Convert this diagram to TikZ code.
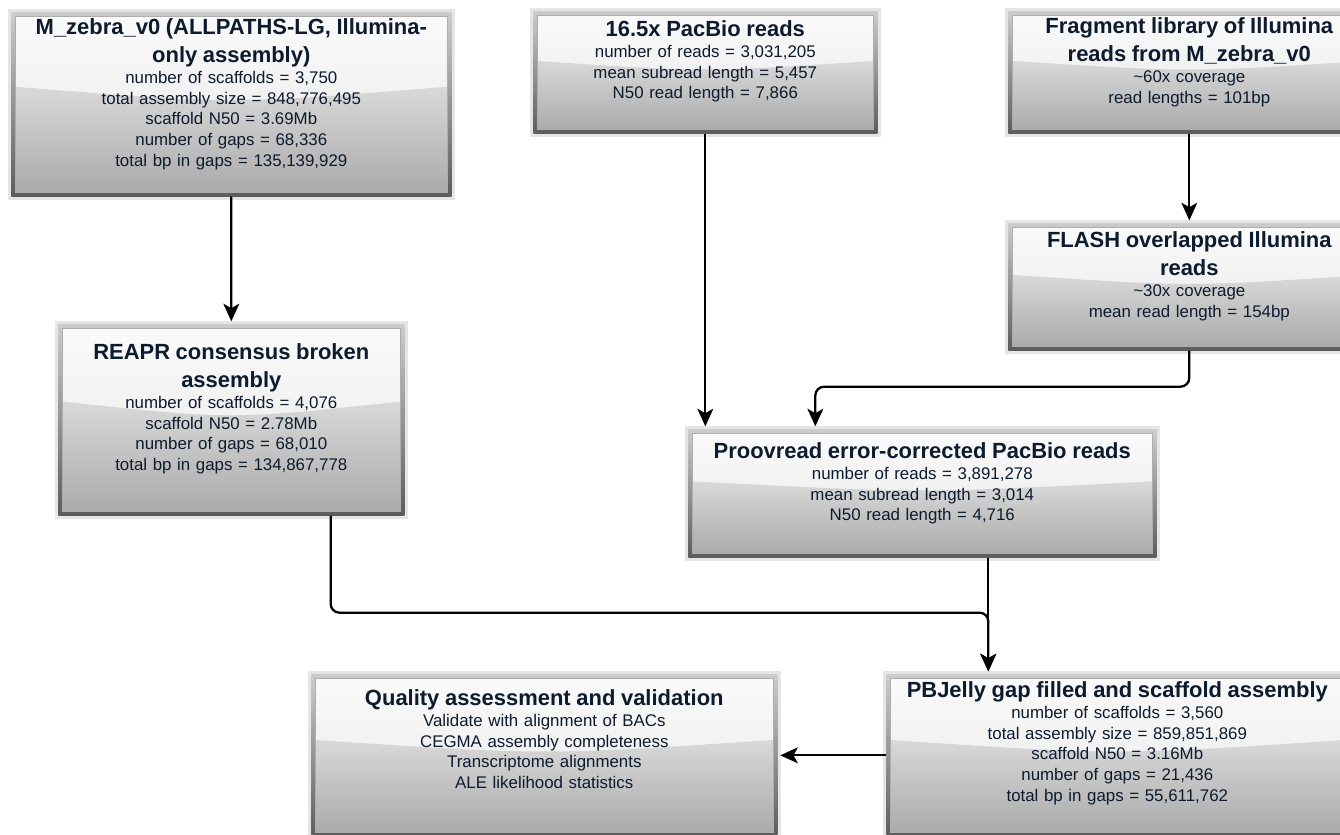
\documentclass[tikz,border=0pt]{standalone}
\usepackage{fontspec}
\setmainfont{Liberation Sans}
\usetikzlibrary{arrows.meta,positioning,calc}

\definecolor{ink}{RGB}{13,27,47}
\newcommand{\boxtitle}[1]{{\fontsize{12.5}{15.9}\selectfont\bfseries #1\par}}

\begin{document}
\begin{tikzpicture}[x=0.02cm,y=-0.02cm,>={Stealth[length=10pt,width=9pt,inset=2.5pt]},
  stage/.style={inner sep=0pt,anchor=north west,
    preaction={fill=black!14,transform canvas={shift={(2pt,-2pt)}}},
    preaction={draw=black!10,line width=4pt},
    top color=black!20,bottom color=black!64,
    path picture={
      \coordinate (pp-nw) at ([shift={(2.3pt,-2.3pt)}]path picture bounding box.north west);
      \coordinate (pp-se) at ([shift={(-2.3pt,2.3pt)}]path picture bounding box.south east);
      \shade[top color=black!2,bottom color=black!9] (pp-nw) rectangle (pp-se);
      \shade[top color=black!15,bottom color=black!33]
        ($(pp-nw)!.4!(pp-nw|-pp-se)$) .. controls ($(pp-nw)!.5!(pp-se)$) ..
        ($(pp-nw-|pp-se)!.4!(pp-se)$) |- (pp-nw|-pp-se) -- cycle;
      \draw[black!32,line width=.6pt] (pp-nw) rectangle (pp-se);
    }},
  info/.style={inner sep=0pt,text=ink,align=center,text width=9.2cm,
    font=\fontsize{9.6}{11.9}\selectfont},
  arrow/.style={->,line width=1.3pt,rounded corners=5pt,shorten >=1.5pt}]
  \useasboundingbox (0,0) rectangle (1340,835);

  % boxes
  \node[stage,minimum width=8.8cm,minimum height=3.68cm] (zebra) at (11,12) {};
  \node[stage,minimum width=6.88cm,minimum height=2.44cm] (pacbio) at (533,11) {};
  \node[stage,minimum width=7.24cm,minimum height=2.44cm] (fragment) at (1008,11) {};
  \node[stage,minimum width=7.24cm,minimum height=2.54cm] (flash) at (1008,223) {};
  \node[stage,minimum width=6.92cm,minimum height=3.82cm] (reapr) at (58,324) {};
  \node[stage,minimum width=9.36cm,minimum height=2.56cm] (proovread) at (688,429) {};
  \node[stage,minimum width=9.32cm,minimum height=3.24cm] (quality) at (311,674) {};
  \node[stage,minimum width=9.24cm,minimum height=3.24cm] (pbjelly) at (886,674) {};

  % box texts
  \node[info,below=0.12cm of zebra.north] (zebra-txt)
    {\boxtitle{M\_zebra\_v0 (ALLPATHS-LG, Illumina-\\only assembly)}
     number of scaffolds = 3,750\\ total assembly size = 848,776,495\\
     scaffold N50 = 3.69Mb\\ number of gaps = 68,336\\ total bp in gaps = 135,139,929};
  \node[info,below=0.18cm of pacbio.north] (pacbio-txt)
    {\boxtitle{16.5x PacBio reads}
     number of reads = 3,031,205\\ mean subread length = 5,457\\ N50 read length = 7,866};
  \node[info,below=0.12cm of fragment.north] (fragment-txt)
    {\boxtitle{Fragment library of Illumina\\reads from M\_zebra\_v0}
     \textasciitilde60x coverage\\ read lengths = 101bp};
  \node[info,below=0.16cm of flash.north] (flash-txt)
    {\boxtitle{FLASH overlapped Illumina\\reads}
     \textasciitilde30x coverage\\ mean read length = 154bp};
  \node[info,below=0.38cm of reapr.north] (reapr-txt)
    {\boxtitle{REAPR consensus broken\\assembly}
     number of scaffolds = 4,076\\ scaffold N50 = 2.78Mb\\
     number of gaps = 68,010\\ total bp in gaps = 134,867,778};
  \node[info,below=0.26cm of proovread.north] (proovread-txt)
    {\boxtitle{Proovread error-corrected PacBio reads}
     number of reads = 3,891,278\\ mean subread length = 3,014\\ N50 read length = 4,716};
  \node[info,below=0.30cm of quality.north] (quality-txt)
    {\boxtitle{Quality assessment and validation}
     Validate with alignment of BACs\\ CEGMA assembly completeness\\
     Transcriptome alignments\\ ALE likelihood statistics};
  \node[info,below=0.14cm of pbjelly.north] (pbjelly-txt)
    {\boxtitle{PBJelly gap filled and scaffold assembly}
     number of scaffolds = 3,560\\ total assembly size = 859,851,869\\
     scaffold N50 = 3.16Mb\\ number of gaps = 21,436\\ total bp in gaps = 55,611,762};

  % connectors
  \coordinate (join) at ([xshift=1.32cm]proovread.south);
  \draw[arrow] (zebra) -- (reapr);
  \draw[arrow] (fragment) -- (flash);
  \draw[arrow] (pacbio) -- (pacbio |- proovread.north);
  \draw[arrow] (flash.south) -- ++(0,36) -| ([xshift=-2.14cm]proovread.north);
  \draw[arrow] (join) -- (join |- pbjelly.north);
  \draw[arrow] ([xshift=-1.48cm]reapr.south east) -- ++(0,97) -| (join |- pbjelly.north);
  \draw[arrow] (pbjelly) -- (quality);
\end{tikzpicture}
\end{document}
